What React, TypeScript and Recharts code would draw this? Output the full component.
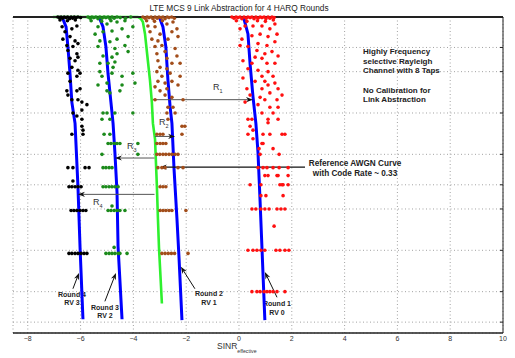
import { CartesianGrid, ComposedChart, Line, ReferenceLine, Scatter, XAxis, YAxis } from "recharts";

type Pt = [number, number];

const xTicks = [-8, -6, -4, -2, 0, 2, 4, 6, 8, 10];
const blerTicks = [
  0.005, 0.006, 0.007, 0.008, 0.009,
  0.01, 0.02, 0.03, 0.04, 0.05, 0.06, 0.07, 0.08, 0.09,
  0.1, 0.2, 0.3, 0.4, 0.5, 0.6, 0.7, 0.8, 0.9, 1,
];

// blue curves: link abstraction per HARQ round (SINR_eff, BLER)
const round1Curve: Pt[] = [
  [0.15, 1], [0.19, 0.967], [0.34, 0.753], [0.42, 0.456], [0.53, 0.263],
  [0.64, 0.168], [0.72, 0.103], [0.8, 0.045], [0.87, 0.0209], [0.98, 0.0062],
];
const round2Curve: Pt[] = [
  [-3.03, 1], [-2.99, 0.967], [-2.88, 0.846], [-2.77, 0.606], [-2.69, 0.344], [-2.61, 0.223],
  [-2.54, 0.168], [-2.46, 0.078], [-2.35, 0.034], [-2.27, 0.0174], [-2.16, 0.0062],
];
const round3Curve: Pt[] = [
  [-5.3, 1], [-5.27, 0.967], [-5.15, 0.846], [-5.04, 0.606], [-4.96, 0.386], [-4.85, 0.239],
  [-4.77, 0.168], [-4.7, 0.103], [-4.62, 0.053], [-4.58, 0.0212], [-4.43, 0.0063],
];
const round4Curve: Pt[] = [
  [-6.7, 1], [-6.67, 0.967], [-6.55, 0.846], [-6.48, 0.606], [-6.4, 0.386], [-6.33, 0.239],
  [-6.21, 0.168], [-6.1, 0.0586], [-6.02, 0.0209], [-5.91, 0.0063],
];
// green: reference AWGN curve, code rate ~0.33
const awgnCurve: Pt[] = [
  [-7.05, 1], [-3.83, 1], [-3.71, 0.967], [-3.64, 0.92], [-3.56, 0.753], [-3.48, 0.54],
  [-3.37, 0.344], [-3.3, 0.239], [-3.26, 0.168], [-3.18, 0.129], [-3.11, 0.0586],
  [-3.07, 0.034], [-3.03, 0.0209], [-2.92, 0.0082],
];

const blackDots: Pt[] = [
  [-6.86, 1], [-6.8, 0.99], [-6.74, 1], [-6.68, 0.98], [-6.62, 1], [-6.55, 0.99], [-6.49, 1],
  [-6.42, 0.97], [-6.36, 1], [-6.3, 0.98], [-6.24, 1], [-6.17, 0.99], [-6.1, 1], [-6.78, 0.95],
  [-6.5, 0.94], [-6.2, 0.95], [-6.0, 0.99],
  [-6.7, 0.85], [-6.59, 0.78], [-6.33, 0.82], [-6.14, 0.86], [-6.67, 0.69], [-6.4, 0.72],
  [-6.21, 0.67], [-6.52, 0.62], [-6.29, 0.61], [-6.1, 0.64], [-6.48, 0.57], [-6.14, 0.54],
  [-6.4, 0.5], [-6.21, 0.48], [-6.1, 0.51], [-6.33, 0.43], [-6.1, 0.41], [-6.48, 0.39],
  [-6.14, 0.37], [-6.02, 0.39], [-6.4, 0.34], [-6.52, 0.29], [-6.14, 0.29], [-6.02, 0.3],
  [-6.48, 0.27], [-6.33, 0.25], [-6.1, 0.25], [-5.95, 0.24], [-5.76, 0.23], [-5.95, 0.21],
  [-6.29, 0.2], [-6.14, 0.19], [-5.95, 0.18], [-5.95, 0.16], [-5.91, 0.15], [-6.33, 0.14], [-5.91, 0.14],
  [-6.48, 0.08], [-6.29, 0.08], [-5.83, 0.08], [-5.68, 0.08],
  [-6.44, 0.058], [-6.33, 0.058], [-6.21, 0.058], [-6.1, 0.058], [-5.98, 0.058], [-6.29, 0.064],
  [-6.36, 0.039], [-6.25, 0.039], [-6.14, 0.039], [-6.02, 0.039], [-5.91, 0.039], [-5.8, 0.039],
  [-6.44, 0.019], [-6.33, 0.019], [-6.21, 0.019], [-6.1, 0.019], [-5.98, 0.019], [-5.87, 0.019],
  [-5.76, 0.019],
];

const greenDots: Pt[] = [
  [-5.72, 1], [-5.64, 0.98], [-5.57, 1], [-5.5, 0.99], [-5.42, 1], [-5.34, 0.97], [-5.27, 1],
  [-5.19, 0.98], [-5.11, 1], [-5.04, 0.99], [-4.96, 1], [-4.89, 0.97], [-4.81, 1], [-4.73, 0.98],
  [-4.62, 1], [-4.5, 0.99], [-5.6, 0.94], [-5.2, 0.93], [-4.85, 0.94], [-4.3, 0.98], [-4.1, 1],
  [-5.34, 0.85], [-5.0, 0.89], [-4.62, 0.92], [-4.32, 0.94], [-5.45, 0.75], [-5.15, 0.78],
  [-4.81, 0.79], [-4.43, 0.82], [-4.02, 0.85], [-5.27, 0.67], [-4.89, 0.66], [-4.62, 0.69],
  [-4.2, 0.72], [-5.34, 0.61], [-4.7, 0.59], [-4.32, 0.62], [-5.15, 0.52], [-4.81, 0.51],
  [-4.62, 0.54], [-4.2, 0.56], [-5.27, 0.46], [-4.96, 0.46], [-4.7, 0.47], [-4.77, 0.43],
  [-5.27, 0.4], [-5.19, 0.37], [-4.81, 0.39], [-4.43, 0.37], [-4.02, 0.39], [-5.34, 0.32],
  [-5.0, 0.33], [-4.43, 0.32], [-3.94, 0.33], [-5.0, 0.29], [-4.89, 0.28], [-4.51, 0.29],
  [-5.15, 0.2], [-5.0, 0.2], [-4.7, 0.2], [-4.02, 0.2], [-5.19, 0.18], [-4.89, 0.18],
  [-5.11, 0.14], [-4.89, 0.14],
  [-4.96, 0.12], [-4.85, 0.12], [-4.73, 0.12], [-4.62, 0.12], [-4.51, 0.12], [-3.83, 0.12],
  [-5.19, 0.1], [-3.83, 0.1],
  [-5.15, 0.08], [-5.04, 0.08], [-4.92, 0.08], [-4.81, 0.08],
  [-5.15, 0.058], [-5.04, 0.058], [-4.92, 0.058], [-4.81, 0.058], [-4.7, 0.058], [-4.58, 0.058],
  [-4.96, 0.039], [-4.85, 0.039], [-4.73, 0.039], [-4.62, 0.039], [-4.51, 0.039], [-4.32, 0.039],
  [-4.81, 0.042],
  [-5.04, 0.019], [-4.92, 0.019], [-4.81, 0.019], [-4.7, 0.019], [-4.58, 0.019], [-4.51, 0.019],
  [-4.24, 0.019], [-4.73, 0.021],
];

const brownDots: Pt[] = [
  [-3.64, 1], [-3.56, 0.98], [-3.48, 1], [-3.41, 0.99], [-3.33, 1], [-3.26, 0.97], [-3.18, 1],
  [-3.1, 0.98], [-3.03, 1], [-2.95, 0.99], [-2.88, 1], [-2.8, 0.97], [-2.72, 1], [-2.65, 0.99],
  [-2.55, 1], [-2.45, 0.98], [-3.5, 0.94], [-3.2, 0.93], [-2.9, 0.94],
  [-3.45, 0.86], [-3.18, 0.85], [-2.73, 0.89], [-2.5, 0.92], [-3.37, 0.78], [-2.99, 0.75],
  [-2.54, 0.78], [-2.35, 0.82], [-3.3, 0.69], [-3.07, 0.67], [-2.69, 0.69], [-2.31, 0.72],
  [-3.18, 0.61], [-2.92, 0.62], [-2.42, 0.59], [-3.11, 0.54], [-2.8, 0.56], [-2.35, 0.52],
  [-3.07, 0.48], [-2.73, 0.5], [-2.54, 0.46], [-2.99, 0.43], [-2.73, 0.42], [-2.23, 0.46],
  [-3.11, 0.4], [-2.92, 0.37], [-2.61, 0.39], [-2.23, 0.37], [-3.07, 0.34], [-2.8, 0.33],
  [-2.54, 0.34], [-3.18, 0.31], [-2.99, 0.29], [-2.73, 0.3], [-2.31, 0.32], [-2.8, 0.27],
  [-2.54, 0.26], [-2.12, 0.25], [-3.18, 0.25], [-2.69, 0.22], [-2.5, 0.22], [-2.73, 0.2],
  [-2.42, 0.2], [-2.69, 0.18],
  [-2.16, 0.16], [-2.05, 0.16],
  [-3.11, 0.14], [-2.99, 0.14], [-2.88, 0.14], [-2.16, 0.14],
  [-3.11, 0.12], [-2.99, 0.12], [-2.88, 0.12], [-2.77, 0.12],
  [-3.11, 0.1], [-3.0, 0.1], [-2.88, 0.1], [-2.77, 0.1], [-2.65, 0.1], [-2.54, 0.1],
  [-2.42, 0.1], [-2.31, 0.1],
  [-3.07, 0.08], [-2.92, 0.08], [-2.8, 0.08], [-2.31, 0.08], [-2.12, 0.08],
  [-2.99, 0.058], [-2.88, 0.058], [-2.77, 0.058],
  [-2.99, 0.039], [-2.88, 0.039], [-2.77, 0.039], [-2.65, 0.039], [-2.54, 0.039], [-2.01, 0.039],
  [-2.92, 0.019], [-2.8, 0.019], [-2.68, 0.019], [-2.56, 0.019], [-2.44, 0.019], [-1.93, 0.019],
];

const redDots: Pt[] = [
  [-0.27, 1], [-0.19, 0.98], [-0.11, 1], [-0.04, 0.99], [0.04, 1], [0.11, 0.97], [0.19, 1],
  [0.27, 0.98], [0.34, 1], [0.42, 0.99], [0.49, 1], [0.57, 0.97], [0.64, 1], [0.72, 0.98],
  [0.8, 1], [0.87, 0.99], [0.95, 1], [1.02, 0.97], [1.1, 1], [1.17, 0.98], [1.25, 1],
  [1.33, 0.99], [-0.1, 0.94], [0.3, 0.93], [0.7, 0.94], [1.0, 0.93], [1.3, 0.95],
  [0.04, 0.82], [0.23, 0.86], [0.53, 0.86], [0.87, 0.86], [1.17, 0.82], [1.36, 0.89],
  [0.11, 0.69], [0.49, 0.73], [0.8, 0.75], [1.1, 0.72], [1.44, 0.75], [0.04, 0.62],
  [0.34, 0.61], [0.72, 0.64], [1.06, 0.62], [1.36, 0.66], [0.68, 0.57], [0.98, 0.54],
  [1.25, 0.56], [0.61, 0.51], [0.87, 0.5], [1.48, 0.52], [0.15, 0.48], [0.49, 0.46],
  [1.06, 0.46], [1.36, 0.46], [0.34, 0.42], [0.72, 0.41], [1.1, 0.4], [1.29, 0.37],
  [0.87, 0.37], [0.15, 0.36], [0.61, 0.34], [0.98, 0.34], [1.36, 0.33], [0.3, 0.3],
  [0.87, 0.3], [1.1, 0.32], [1.48, 0.3], [0.42, 0.27], [0.8, 0.26], [1.17, 0.28],
  [0.98, 0.25], [1.44, 0.25], [1.63, 0.27], [0.23, 0.24], [0.72, 0.23], [1.17, 0.22],
  [1.48, 0.22], [0.87, 0.2], [1.29, 0.2], [0.34, 0.18], [0.49, 0.18], [1.1, 0.18], [1.48, 0.18],
  [0.42, 0.16], [0.53, 0.15], [1.1, 0.17], [0.91, 0.14], [1.17, 0.14], [1.63, 0.14],
  [1.74, 0.14], [0.34, 0.14], [0.53, 0.13], [0.91, 0.12], [0.87, 0.12], [1.29, 0.11],
  [1.52, 0.1], [0.76, 0.11], [0.8, 0.1],
  [0.72, 0.08], [0.91, 0.08], [1.06, 0.08], [1.29, 0.08], [1.52, 0.08], [1.86, 0.08],
  [0.98, 0.07], [1.1, 0.07], [1.44, 0.07], [1.48, 0.07], [1.86, 0.07],
  [0.42, 0.06], [0.83, 0.06], [1.55, 0.06], [1.63, 0.06], [1.67, 0.06], [1.86, 0.06],
  [0.83, 0.05], [1.02, 0.05], [1.67, 0.05],
  [0.49, 0.04], [0.64, 0.04], [0.83, 0.04], [0.98, 0.04], [1.14, 0.04], [1.44, 0.04],
  [1.59, 0.04], [1.74, 0.04],
  [1.33, 0.03],
  [0.34, 0.02], [0.53, 0.02], [0.68, 0.02], [0.83, 0.02], [0.98, 0.02], [1.4, 0.02],
  [1.55, 0.02], [1.74, 0.02], [1.89, 0.02],
  [0.49, 0.01], [0.68, 0.01], [0.8, 0.01], [0.95, 0.01], [1.06, 0.01], [1.17, 0.01],
  [1.29, 0.01], [1.44, 0.01], [1.74, 0.01],
];

// annotation arrows, tail -> head, in (SINR, BLER)
const rArrows: { from: Pt; to: Pt }[] = [
  { from: [-3.26, 0.25], to: [0.53, 0.25] },
  { from: [-3.18, 0.135], to: [-2.42, 0.135] },
  { from: [-3.2, 0.094], to: [-4.7, 0.094] },
  { from: [-3.2, 0.0511], to: [-6.1, 0.0511] },
];
const awgnArrow = { from: [2.5, 0.0806] as Pt, to: [-3.0, 0.0806] as Pt };
const roundArrows: { from: Pt; to: Pt }[] = [
  { from: [-6.29, 0.0105], to: [-6.06, 0.0137] },
  { from: [-5.08, 0.0085], to: [-4.66, 0.0137] },
  { from: [-1.67, 0.0105], to: [-2.2, 0.0152] },
  { from: [1.44, 0.0091], to: [0.98, 0.0139] },
];

const rows = (pts: Pt[]) => pts.map(([x, y]) => ({ x, y }));

function arrowShape(color: string, width: number) {
  return (p: any) => {
    const { x1, y1, x2, y2 } = p;
    const a = Math.atan2(y2 - y1, x2 - x1);
    const len = 7;
    const half = 2.6;
    const bx = x2 - len * Math.cos(a);
    const by = y2 - len * Math.sin(a);
    const nx = Math.sin(a) * half;
    const ny = -Math.cos(a) * half;
    const head = `${x2},${y2} ${bx + nx},${by + ny} ${bx + len * 0.3 * Math.cos(a)},${by + len * 0.3 * Math.sin(a)} ${bx - nx},${by - ny}`;
    return (
      <g>
        <line x1={x1} y1={y1} x2={bx + 2 * Math.cos(a)} y2={by + 2 * Math.sin(a)} stroke={color} strokeWidth={width} />
        <polygon points={head} fill="#111" />
      </g>
    );
  };
}

const dot = (color: string) => (p: any) => <circle cx={p.cx} cy={p.cy} r={1.8} fill={color} />;
const noLabel = () => <g />;

const fmtTick = (v: number) => String(v).replace("-", "\u2212");

const bold = { fontFamily: "Liberation Sans, Arial, sans-serif", fontWeight: 700, fill: "#222" };
const plain = { fontFamily: "Liberation Sans, Arial, sans-serif", fill: "#333" };

export default function App() {
  return (
    <div style={{ position: "absolute", left: 0, top: 0, width: 515, height: 358, background: "#fff" }}>
      <ComposedChart width={515} height={358} margin={{ top: 17, right: 12, bottom: 0, left: 13 }}>
        <CartesianGrid stroke="#8a8a8a" strokeDasharray="1 2.5" strokeWidth={0.8} />
        <XAxis
          dataKey="x"
          type="number"
          domain={[-8.56, 10]}
          ticks={xTicks}
          height={25}
          tickLine={false}
          tickSize={0}
          tickMargin={3}
          tickFormatter={fmtTick}
          axisLine={{ stroke: "#222", strokeWidth: 1.3 }}
          tick={{ fontSize: 7, fill: "#333", fontFamily: "Liberation Sans, Arial, sans-serif" }}
        />
        <XAxis
          xAxisId="bottomTicks"
          orientation="bottom"
          mirror
          type="number"
          domain={[-8.56, 10]}
          ticks={xTicks}
          tick={noLabel}
          tickSize={3}
          axisLine={false}
          tickLine={{ stroke: "#222" }}
        />
        <XAxis
          xAxisId="top"
          orientation="top"
          mirror
          type="number"
          domain={[-8.56, 10]}
          ticks={xTicks}
          tick={noLabel}
          tickSize={3}
          axisLine={{ stroke: "#222", strokeWidth: 2 }}
          tickLine={{ stroke: "#222" }}
        />
        <YAxis
          dataKey="y"
          orientation="right"
          mirror
          type="number"
          scale="log"
          domain={[0.005, 1]}
          ticks={blerTicks}
          tick={noLabel}
          tickSize={3}
          axisLine={{ stroke: "#222" }}
          tickLine={{ stroke: "#222" }}
        />

        <Scatter data={rows(blackDots)} shape={dot("#000")} isAnimationActive={false} />
        <Scatter data={rows(greenDots)} shape={dot("#1b8a1b")} isAnimationActive={false} />
        <Scatter data={rows(brownDots)} shape={dot("#a24d1a")} isAnimationActive={false} />
        <Scatter data={rows(redDots)} shape={dot("#ff1010")} isAnimationActive={false} />

        <Line data={rows(awgnCurve)} dataKey="y" type="linear" dot={false} stroke="#2ef02e" strokeWidth={2.6} isAnimationActive={false} />
        <Line data={rows(round1Curve)} dataKey="y" type="linear" dot={false} stroke="#0000ff" strokeWidth={3} isAnimationActive={false} />
        <Line data={rows(round2Curve)} dataKey="y" type="linear" dot={false} stroke="#0000ff" strokeWidth={3} isAnimationActive={false} />
        <Line data={rows(round3Curve)} dataKey="y" type="linear" dot={false} stroke="#0000ff" strokeWidth={3} isAnimationActive={false} />
        <Line data={rows(round4Curve)} dataKey="y" type="linear" dot={false} stroke="#0000ff" strokeWidth={3} isAnimationActive={false} />

        {rArrows.map((a, i) => (
          <ReferenceLine
            key={`r${i}`}
            segment={[{ x: a.from[0], y: a.from[1] }, { x: a.to[0], y: a.to[1] }]}
            shape={arrowShape("#555", 1)}
          />
        ))}
        <ReferenceLine
          segment={[{ x: awgnArrow.from[0], y: awgnArrow.from[1] }, { x: awgnArrow.to[0], y: awgnArrow.to[1] }]}
          shape={arrowShape("#111", 1.3)}
        />
        {roundArrows.map((a, i) => (
          <ReferenceLine
            key={`rd${i}`}
            segment={[{ x: a.from[0], y: a.from[1] }, { x: a.to[0], y: a.to[1] }]}
            shape={arrowShape("#111", 1)}
          />
        ))}

        <text x={239} y={10.5} textAnchor="middle" fontSize={8.3} {...plain} fill="#222">
          LTE MCS 9 Link Abstraction for 4 HARQ Rounds
        </text>
        <text x={217} y={349} fontSize={8.5} {...plain}>
          SINR<tspan dy={4} fontSize={5.2}>effective</tspan>
        </text>

        <text fontSize={8} {...bold}>
          <tspan x={363} y={54}>Highly Frequency</tspan>
          <tspan x={363} y={63.5}>selective Rayleigh</tspan>
          <tspan x={363} y={73}>Channel with 8 Taps</tspan>
          <tspan x={363} y={93}>No Calibration for</tspan>
          <tspan x={363} y={102}>Link Abstraction</tspan>
        </text>
        <text fontSize={8.2} {...bold} textAnchor="middle">
          <tspan x={355} y={166}>Reference AWGN Curve</tspan>
          <tspan x={355} y={176}>with Code Rate ~ 0.33</tspan>
        </text>

        <text fontSize={9} {...plain}>
          <tspan x={213} y={90}>R</tspan><tspan dy={3} fontSize={5.5}>1</tspan>
        </text>
        <text fontSize={9} {...plain}>
          <tspan x={159} y={125}>R</tspan><tspan dy={3} fontSize={5.5}>2</tspan>
        </text>
        <text fontSize={9} {...plain}>
          <tspan x={127} y={149}>R</tspan><tspan dy={3} fontSize={5.5}>3</tspan>
        </text>
        <text fontSize={9} {...plain}>
          <tspan x={93} y={205}>R</tspan><tspan dy={3} fontSize={5.5}>4</tspan>
        </text>

        <text fontSize={7} {...bold} textAnchor="middle">
          <tspan x={72} y={297}>Round 4</tspan>
          <tspan x={72} y={305}>RV 3</tspan>
        </text>
        <text fontSize={7} {...bold} textAnchor="middle">
          <tspan x={105} y={310}>Round 3</tspan>
          <tspan x={105} y={318}>RV 2</tspan>
        </text>
        <text fontSize={7} {...bold} textAnchor="middle">
          <tspan x={209} y={296}>Round 2</tspan>
          <tspan x={209} y={305}>RV 1</tspan>
        </text>
        <text fontSize={7} {...bold} textAnchor="middle">
          <tspan x={277} y={306}>Round 1</tspan>
          <tspan x={277} y={315}>RV 0</tspan>
        </text>
      </ComposedChart>
    </div>
  );
}
